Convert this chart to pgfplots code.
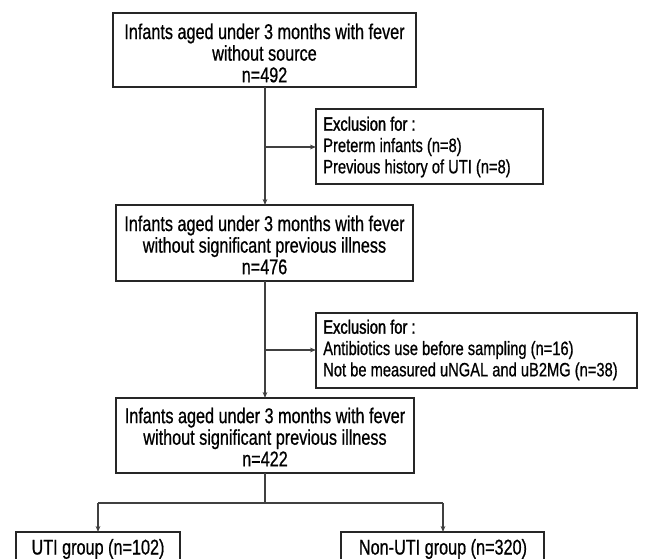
\documentclass[border=0pt]{standalone}
\usepackage{pgfplots}
\pgfplotsset{compat=1.18}
\usetikzlibrary{arrows.meta}
\usepackage{fontspec}
\setmainfont{Liberation Sans}[FakeStretch=0.76,FakeBold=0.7]
\newfontfamily\heavyfont{Liberation Sans}[FakeStretch=0.76,FakeBold=1.6]
\begin{document}
\begin{tikzpicture}[x=0.75pt,y=0.75pt]
\useasboundingbox (0,0) rectangle (649,558);
\clip (0,0) rectangle (649,558);
\begin{axis}[at={(0,0)},anchor=south west,scale only axis,
  width=486.75pt,height=418.5pt,xmin=0,xmax=649,ymin=0,ymax=558,
  y dir=reverse,hide axis,clip=false]
% boxes
\pgfplotsset{boxstyle/.style={black!85,line width=0.9pt,mark=none}}
\addplot[boxstyle] coordinates {(113,13)(416,13)(416,87)(113,87)} -- cycle;
\addplot[boxstyle] coordinates {(316,109)(543,109)(543,184)(316,184)} -- cycle;
\addplot[boxstyle] coordinates {(116,205)(413,205)(413,281)(116,281)} -- cycle;
\addplot[boxstyle] coordinates {(316,313)(637,313)(637,388)(316,388)} -- cycle;
\addplot[boxstyle] coordinates {(116,398)(414,398)(414,473)(116,473)} -- cycle;
\addplot[boxstyle] coordinates {(16,532)(180,532)(180,600)(16,600)} -- cycle;
\addplot[boxstyle] coordinates {(341,532)(544,532)(544,600)(341,600)} -- cycle;
% connectors
\pgfplotsset{arr/.style={black!75,line width=0.9pt,mark=none,-{Stealth[length=4.5pt,width=3.5pt]}},
             ln/.style={black!75,line width=0.9pt,mark=none}}
\addplot[arr] coordinates {(265,87)(265,205)};
\addplot[arr] coordinates {(265,147)(316,147)};
\addplot[arr] coordinates {(265,281)(265,398)};
\addplot[arr] coordinates {(265,350)(316,350)};
\addplot[ln] coordinates {(265,473)(265,503)};
\addplot[ln] coordinates {(98,503)(443,503)};
\addplot[arr] coordinates {(98,503)(98,532)};
\addplot[arr] coordinates {(443,503)(443,532)};
% texts
\tikzset{t/.style={font=\fontsize{16}{16.2}\selectfont,inner sep=0pt,text=black},
         te/.style={font=\fontsize{14.5}{16.0}\selectfont,inner sep=0pt,text=black,align=left,anchor=west}}
\node[t,align=center] at (axis cs:264.5,53) {Infants aged under 3 months with fever\\without source\\n=492};
\node[te] at (axis cs:323,147) {{\heavyfont Exclusion for :}\\Preterm infants (n=8)\\Previous history of UTI (n=8)};
\node[t,align=center] at (axis cs:264.5,245) {Infants aged under 3 months with fever\\without significant previous illness\\n=476};
\node[te] at (axis cs:323,350) {{\heavyfont Exclusion for :}\\Antibiotics use before sampling (n=16)\\Not be measured uNGAL and uB2MG (n=38)};
\node[t,align=center] at (axis cs:265,437) {Infants aged under 3 months with fever\\without significant previous illness\\n=422};
\node[t] at (axis cs:98,549) {UTI group (n=102)};
\node[t] at (axis cs:443,549) {Non-UTI group (n=320)};
\end{axis}
\end{tikzpicture}
\end{document}
